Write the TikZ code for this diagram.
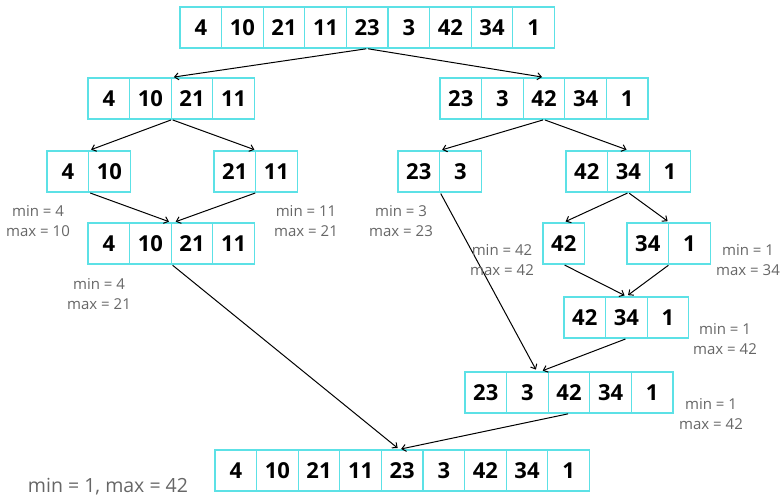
\documentclass[tikz,border=0pt]{standalone}
\usepackage{fontspec}
\setmainfont{Open Sans}
\usetikzlibrary{arrows.meta}

\definecolor{cellc}{HTML}{5CE1E6}
\definecolor{labc}{HTML}{666666}

\tikzset{
  cell/.style={draw=cellc, line width=1.3pt, minimum width=41.6pt, minimum height=41pt,
    inner sep=0pt, font=\fontsize{22}{26}\selectfont\bfseries},
  minmax/.style={text=labc, align=center, font=\fontsize{15}{20}\selectfont},
  arr/.style={-{Straight Barb[length=4pt,width=7pt]}, line width=1pt, shorten >=2pt, shorten <=1pt}
}

% one row of cells: name, left x, top y, values
\newcommand{\cellrow}[4]{%
  \foreach \v [count=\i] in {#4}
    \node[cell] (#1-\i) at ({#2+(\i-0.5)*41.6},{#3+20.5}) {\v};
}

\begin{document}
\begin{tikzpicture}[x=1pt,y=-1pt]
\useasboundingbox (0,0) rectangle (780,497);

\cellrow{top}{180}{7}{4,10,21,11,23,3,42,34,1}

\cellrow{left}{88}{78}{4,10,21,11}
\cellrow{right}{440}{78}{23,3,42,34,1}

\cellrow{ll}{47}{151}{4,10}
\cellrow{lr}{214}{151}{21,11}
\cellrow{rl}{398}{151}{23,3}
\cellrow{rr}{566}{151}{42,34,1}

\cellrow{lmerge}{88}{223}{4,10,21,11}
\cellrow{rrl}{543}{223}{42}
\cellrow{rrr}{627}{223}{34,1}

\cellrow{rrmerge}{564}{297}{42,34,1}
\cellrow{rmerge}{465}{372}{23,3,42,34,1}

\cellrow{final}{215}{450}{4,10,21,11,23,3,42,34,1}

\draw[arr] (top-5.south) -- (left-2.north east);
\draw[arr] (top-5.south) -- (right-3.north);

\draw[arr] (left-2.south east) -- (ll-1.north east);
\draw[arr] (left-2.south east) -- (lr-1.north east);
\draw[arr] (right-3.south) -- (rl-1.north east);
\draw[arr] (right-3.south) -- (rr-2.north);

\draw[arr] (ll-1.south east) -- ([xshift=-1pt]lmerge-2.north east);
\draw[arr] (lr-1.south east) -- ([xshift=2pt]lmerge-2.north east);
\draw[arr] (rr-2.south) -- (rrl-1.north);
\draw[arr] (rr-2.south) -- (rrr-1.north east);

\draw[arr] (rrl-1.south) -- (rrmerge-2.north);
\draw[arr] (rrr-1.south east) -- (rrmerge-2.north);

\draw[arr] (rl-1.south east) -- ([xshift=-12pt]rmerge-2.north east);
\draw[arr] (rrmerge-2.south) -- ([xshift=-8pt]rmerge-2.north east);

\draw[arr] (lmerge-2.south east) -- ([xshift=-3pt]final-5.north);
\draw[arr] (rmerge-3.south) -- ([xshift=-3pt]final-5.north);

\node[minmax] (mm-ll) at (38,221) {min = 4\\max = 10};
\node[minmax] (mm-lr) at (306,221) {min = 11\\max = 21};
\node[minmax] (mm-lmerge) at (99,294) {min = 4\\max = 21};
\node[minmax] (mm-rl) at (401,221) {min = 3\\max = 23};
\node[minmax] (mm-rrl) at (502,260) {min = 42\\max = 42};
\node[minmax] (mm-rrr) at (748,260) {min = 1\\max = 34};
\node[minmax] (mm-rrmerge) at (725,339) {min = 1\\max = 42};
\node[minmax] (mm-rmerge) at (711,414) {min = 1\\max = 42};
\node[minmax, font=\fontsize{19.5}{22}\selectfont] (mm-final) at (108,487) {min = 1, max = 42};
\end{tikzpicture}
\end{document}
